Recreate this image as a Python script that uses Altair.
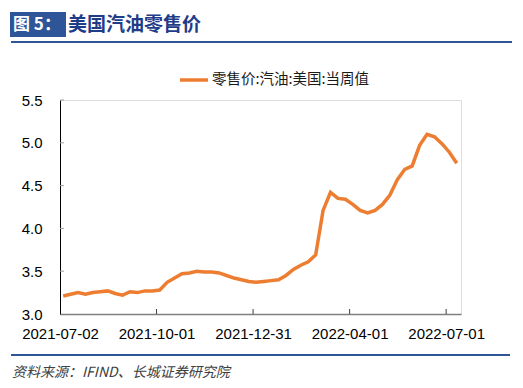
import altair as alt
import pandas as pd

# Weekly dates (Mondays) and US gasoline retail price ($/gal)
dates = pd.date_range("2021-07-05", periods=54, freq="7D").strftime("%Y-%m-%d").tolist()
prices = [3.21, 3.23, 3.25, 3.23, 3.25, 3.26, 3.27, 3.24, 3.22, 3.26,
          3.25, 3.27, 3.27, 3.28, 3.37, 3.42, 3.47, 3.48, 3.50, 3.49,
          3.49, 3.48, 3.45, 3.42, 3.40, 3.38, 3.37, 3.38, 3.39, 3.40,
          3.45, 3.52, 3.57, 3.61, 3.69, 4.21, 4.42, 4.35, 4.34, 4.28,
          4.21, 4.18, 4.21, 4.28, 4.39, 4.57, 4.69, 4.73, 4.97, 5.10,
          5.07, 4.99, 4.89, 4.76]

tick_dates = ["2021-07-02", "2021-10-01", "2021-12-31", "2022-04-01", "2022-07-01"]
y_ticks = [3.0, 3.5, 4.0, 4.5, 5.0, 5.5]
series_name = "零售价:汽油:美国:当周值"
title_label = "图 5："
title_text = "美国汽油零售价"
source_text = "资料来源：IFIND、长城证券研究院"

df = pd.DataFrame({"date": dates, "price": prices})
df_xt = pd.DataFrame({"date": tick_dates[1:]})
df_yt = pd.DataFrame({"v": y_ticks[1:]})
one = pd.DataFrame({"a": [0]})

def dt(s):
    y, m, d = map(int, s.split("-"))
    return alt.DateTime(year=y, month=m, date=d, utc=True)

x_axis = alt.Axis(values=[dt(s) for s in tick_dates],
                  labelExpr="utcFormat(datum.value, '%Y-%m-%d')",
                  ticks=False, grid=False, domainColor="#808080", domainWidth=1.5,
                  labelFont="Liberation Sans", labelFontSize=15, labelColor="#000000",
                  labelPadding=12, labelAngle=0, title=None, labelFlush=False,
                  labelOverlap=False)
y_axis = alt.Axis(values=y_ticks, format=".1f", ticks=False, grid=False,
                  domainColor="#000000", domainWidth=1,
                  labelFont="Liberation Sans", labelFontSize=15, labelColor="#000000",
                  labelPadding=18, title=None)

x_scale = alt.Scale(type="utc", domain=[dt("2021-07-02"), dt("2022-07-15")])
y_scale = alt.Scale(domain=[3.0, 5.5], nice=False, zero=False)

X = alt.X("date:T", scale=x_scale, axis=x_axis)
Y = alt.Y("price:Q", scale=y_scale, axis=y_axis)

line = alt.Chart(df).mark_line(color="#ED7D31", strokeWidth=3.5).encode(x=X, y=Y)

xticks = alt.Chart(df_xt).mark_rule(color="#404040", strokeWidth=1).encode(
    x=X, y=alt.value(214), y2=alt.value(209))
yticks = alt.Chart(df_yt).mark_rule(color="#a0a0a0", strokeWidth=1).encode(
    y=alt.Y("v:Q", scale=y_scale, axis=y_axis), x=alt.value(0), x2=alt.value(4))

legend_line = alt.Chart(one).mark_rule(color="#ED7D31", strokeWidth=3.5).encode(
    x=alt.value(120), x2=alt.value(148), y=alt.value(-20))
legend_text = alt.Chart(one).mark_text(
    text=series_name, align="left", baseline="middle", font="Noto Sans CJK SC",
    fontSize=14.5, color="#1a1a1a").encode(x=alt.value(152), y=alt.value(-20))

title_box = alt.Chart(one).mark_rect(color="#2E5597").encode(
    x=alt.value(-50), x2=alt.value(6), y=alt.value(-88), y2=alt.value(-63))
title_lbl = alt.Chart(one).mark_text(
    text=title_label, align="left", baseline="middle", font="Noto Sans CJK SC",
    fontSize=17, fontWeight="bold", color="#ffffff").encode(x=alt.value(-47), y=alt.value(-75))
title_txt = alt.Chart(one).mark_text(
    text=title_text, align="left", baseline="middle", font="Noto Sans CJK SC",
    fontSize=19, fontWeight="bold", color="#1F3C88").encode(x=alt.value(8), y=alt.value(-75))
top_rule = alt.Chart(one).mark_rule(color="#2E5597", strokeWidth=2).encode(
    x=alt.value(-49), x2=alt.value(452), y=alt.value(-58))
bottom_rule = alt.Chart(one).mark_rule(color="#2E5597", strokeWidth=2).encode(
    x=alt.value(-49), x2=alt.value(450), y=alt.value(255))
source = alt.Chart(one).mark_text(
    text=source_text, align="left", baseline="middle", font="Noto Sans CJK SC",
    fontSize=14, fontStyle="italic", color="#404040").encode(x=alt.value(-48), y=alt.value(273))

chart = alt.layer(
    line, xticks, yticks, legend_line, legend_text,
    title_box, title_lbl, title_txt, top_rule, bottom_rule, source
).properties(
    width=401, height=214,
    padding={"left": 52, "top": 92, "right": 54, "bottom": 70},
    autosize=alt.AutoSizeParams(type="none"),
).configure_view(stroke=None).configure(background="#ffffff")

chart.save("out.html", embed_options={"renderer": "svg", "actions": False})
